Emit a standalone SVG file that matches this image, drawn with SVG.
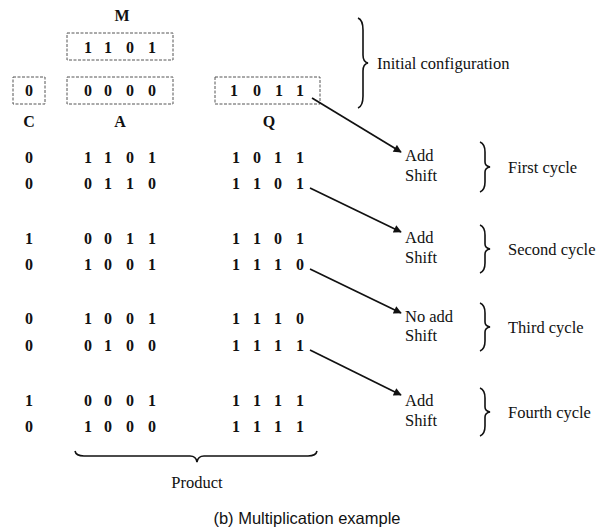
<svg xmlns="http://www.w3.org/2000/svg" width="600" height="531" viewBox="0 0 600 531">
<style>
.t{font-family:"Liberation Serif","Times New Roman",serif;fill:#111;font-size:16.5px}
.d{font-family:"Liberation Serif","Times New Roman",serif;fill:#111;font-size:16px;font-weight:bold;text-anchor:middle}
.h{font-family:"Liberation Serif","Times New Roman",serif;fill:#111;font-size:16px;font-weight:bold;text-anchor:middle}
.box{fill:none;stroke:#555;stroke-width:1;stroke-dasharray:3 1.5}
.br{fill:none;stroke:#111;stroke-width:1.6}
.ar{stroke:#111;stroke-width:1.7;fill:none;marker-end:url(#ah)}
.cap{font-family:"Liberation Sans",Arial,sans-serif;fill:#111;font-size:16.5px;text-anchor:middle}
</style>
<defs>
<marker id="ah" viewBox="0 0 10 10" refX="9" refY="5" markerWidth="9" markerHeight="8" markerUnits="userSpaceOnUse" orient="auto">
<path d="M0,0 L10,5 L0,10 z" fill="#111"/>
</marker>
</defs>
<rect width="600" height="531" fill="#fff"/>

<g id="registers">
<text class="h" x="122" y="21">M</text>
<rect class="box" x="67" y="33" width="106" height="27"/>
<text class="d" x="88" y="53">1</text><text class="d" x="108" y="53">1</text><text class="d" x="130" y="53">0</text><text class="d" x="152" y="53">1</text>
<rect class="box" x="13" y="77" width="32" height="27"/>
<text class="d" x="29" y="96">0</text>
<rect class="box" x="67" y="77" width="106" height="27"/>
<text class="d" x="88" y="96">0</text><text class="d" x="108" y="96">0</text><text class="d" x="130" y="96">0</text><text class="d" x="152" y="96">0</text>
<rect class="box" x="215" y="77" width="105" height="27"/>
<text class="d" x="234" y="96">1</text><text class="d" x="257" y="96">0</text><text class="d" x="279" y="96">1</text><text class="d" x="300" y="96">1</text>
<text class="h" x="29" y="127">C</text>
<text class="h" x="120" y="127">A</text>
<text class="h" x="269" y="127">Q</text>
</g>

<g id="rows">
<text class="d" x="29" y="163">0</text><text class="d" x="88" y="163">1</text><text class="d" x="108" y="163">1</text><text class="d" x="130" y="163">0</text><text class="d" x="152" y="163">1</text><text class="d" x="236" y="163">1</text><text class="d" x="257" y="163">0</text><text class="d" x="278" y="163">1</text><text class="d" x="300" y="163">1</text>
<text class="d" x="29" y="189">0</text><text class="d" x="88" y="189">0</text><text class="d" x="108" y="189">1</text><text class="d" x="130" y="189">1</text><text class="d" x="152" y="189">0</text><text class="d" x="236" y="189">1</text><text class="d" x="257" y="189">1</text><text class="d" x="278" y="189">0</text><text class="d" x="300" y="189">1</text>
<text class="d" x="29" y="244">1</text><text class="d" x="88" y="244">0</text><text class="d" x="108" y="244">0</text><text class="d" x="130" y="244">1</text><text class="d" x="152" y="244">1</text><text class="d" x="236" y="244">1</text><text class="d" x="257" y="244">1</text><text class="d" x="278" y="244">0</text><text class="d" x="300" y="244">1</text>
<text class="d" x="29" y="270">0</text><text class="d" x="88" y="270">1</text><text class="d" x="108" y="270">0</text><text class="d" x="130" y="270">0</text><text class="d" x="152" y="270">1</text><text class="d" x="236" y="270">1</text><text class="d" x="257" y="270">1</text><text class="d" x="278" y="270">1</text><text class="d" x="300" y="270">0</text>
<text class="d" x="29" y="324">0</text><text class="d" x="88" y="324">1</text><text class="d" x="108" y="324">0</text><text class="d" x="130" y="324">0</text><text class="d" x="152" y="324">1</text><text class="d" x="236" y="324">1</text><text class="d" x="257" y="324">1</text><text class="d" x="278" y="324">1</text><text class="d" x="300" y="324">0</text>
<text class="d" x="29" y="351">0</text><text class="d" x="88" y="351">0</text><text class="d" x="108" y="351">1</text><text class="d" x="130" y="351">0</text><text class="d" x="152" y="351">0</text><text class="d" x="236" y="351">1</text><text class="d" x="257" y="351">1</text><text class="d" x="278" y="351">1</text><text class="d" x="300" y="351">1</text>
<text class="d" x="29" y="406">1</text><text class="d" x="88" y="406">0</text><text class="d" x="108" y="406">0</text><text class="d" x="130" y="406">0</text><text class="d" x="152" y="406">1</text><text class="d" x="236" y="406">1</text><text class="d" x="257" y="406">1</text><text class="d" x="278" y="406">1</text><text class="d" x="300" y="406">1</text>
<text class="d" x="29" y="432">0</text><text class="d" x="88" y="432">1</text><text class="d" x="108" y="432">0</text><text class="d" x="130" y="432">0</text><text class="d" x="152" y="432">0</text><text class="d" x="236" y="432">1</text><text class="d" x="257" y="432">1</text><text class="d" x="278" y="432">1</text><text class="d" x="300" y="432">1</text>
</g>

<g id="initial-config">
<path class="br" d="M358,18 Q363,20 363,30 L363,55 Q363,62 368,63 Q363,64 363,71 L363,96 Q363,106 358,108"/>
<text class="t" x="377" y="69">Initial configuration</text>
</g>

<g id="cycle1">
<text class="t" x="405" y="161">Add</text>
<text class="t" x="405" y="181">Shift</text>
<path class="br" d="M480,142 Q485,144 485,152 L485,162 Q485,166 490,167 Q485,168 485,172 L485,182 Q485,190 480,192"/>
<text class="t" x="508" y="173">First cycle</text>
</g>
<g id="cycle2">
<text class="t" x="405" y="243">Add</text>
<text class="t" x="405" y="263">Shift</text>
<path class="br" d="M480,225 Q485,227 485,235 L485,244 Q485,248 490,249 Q485,250 485,254 L485,263 Q485,271 480,273"/>
<text class="t" x="508" y="255">Second cycle</text>
</g>
<g id="cycle3">
<text class="t" x="405" y="322">No add</text>
<text class="t" x="405" y="341">Shift</text>
<path class="br" d="M480,303 Q485,305 485,313 L485,322 Q485,326 490,327 Q485,328 485,332 L485,341 Q485,349 480,351"/>
<text class="t" x="508" y="333">Third cycle</text>
</g>
<g id="cycle4">
<text class="t" x="405" y="406">Add</text>
<text class="t" x="405" y="426">Shift</text>
<path class="br" d="M480,388 Q485,390 485,398 L485,407 Q485,411 490,412 Q485,413 485,417 L485,426 Q485,434 480,436"/>
<text class="t" x="508" y="418">Fourth cycle</text>
</g>

<g id="product">
<path class="br" d="M75,451 Q76,456 84,456 L190,456 Q196,456 197,462 Q198,456 204,456 L308,456 Q316,456 317,451"/>
<text class="t" x="197" y="488" text-anchor="middle">Product</text>
</g>

<g id="connectors">
<line class="ar" x1="312" y1="98" x2="401" y2="152"/>
<line class="ar" x1="310" y1="188" x2="401" y2="232"/>
<line class="ar" x1="310" y1="269" x2="401" y2="313"/>
<line class="ar" x1="310" y1="350" x2="401" y2="395"/>
</g>

<g id="caption">
<text class="cap" x="307" y="524">(b) Multiplication example</text>
</g>
</svg>
